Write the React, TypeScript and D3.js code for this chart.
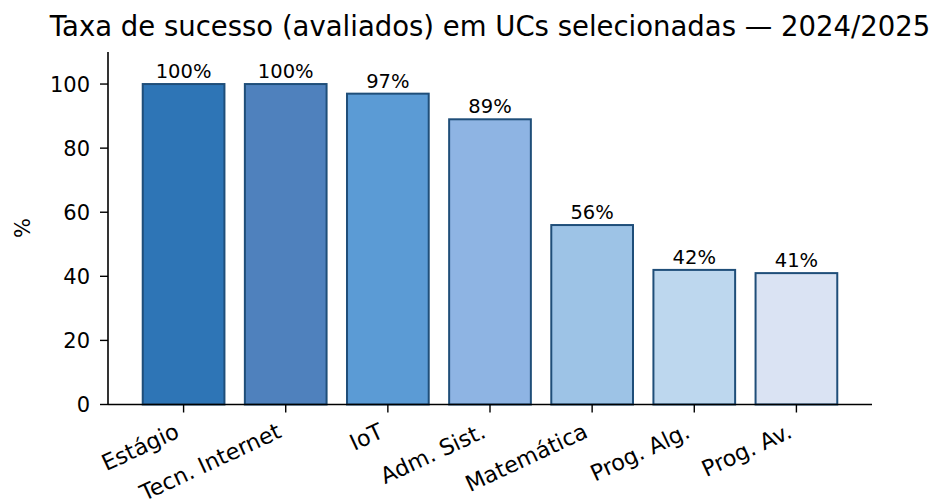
import React from "react";
import * as d3 from "d3";

const categories = ["Estágio", "Tecn. Internet", "IoT", "Adm. Sist.", "Matemática", "Prog. Alg.", "Prog. Av."];
const values = [100, 100, 97, 89, 56, 42, 41];
const colors = ["#2e75b6", "#4f81bd", "#5b9bd5", "#8eb4e3", "#9dc3e6", "#bdd7ee", "#dae3f3"];
const yTicks = [0, 20, 40, 60, 80, 100];
const title = "Taxa de sucesso (avaliados) em UCs selecionadas — 2024/2025";

export default function App() {
  const W = 941, H = 499;
  const left = 108, right = 872, top = 52, bottom = 404.5;
  const x = d3.scaleLinear().domain([-0.74, categories.length - 1 + 0.74]).range([left, right]);
  const y = d3.scaleLinear().domain([0, 110]).range([bottom, top]);
  const bw = x(0.4) - x(-0.4);
  const font = "'DejaVu Sans', sans-serif";
  return (
    <svg width={W} height={H} style={{ position: "absolute", left: 0, top: 0 }} fontFamily={font}>
      <rect width={W} height={H} fill="#fff" />
      <text x={(left + right) / 2} y={36} textAnchor="middle" fontSize={27.5} fill="#000">{title}</text>
      {values.map((v, i) => (
        <g key={i}>
          <rect x={x(i) - bw / 2} y={y(v)} width={bw} height={y(0) - y(v)} fill={colors[i]} stroke="#1f4e79" strokeWidth={2} />
          <text x={x(i)} y={y(v) - 6} textAnchor="middle" fontSize={19.5} fill="#000">{v}%</text>
        </g>
      ))}
      <line x1={left} x2={left} y1={top} y2={bottom} stroke="#000" strokeWidth={1.6} />
      <line x1={left} x2={right} y1={bottom} y2={bottom} stroke="#000" strokeWidth={1.6} />
      {yTicks.map((t) => (
        <g key={t}>
          <line x1={left - 8} x2={left} y1={y(t)} y2={y(t)} stroke="#000" strokeWidth={1.4} />
          <text x={left - 18} y={y(t)} dy="0.36em" textAnchor="end" fontSize={21} fill="#000">{t}</text>
        </g>
      ))}
      {categories.map((c, i) => (
        <g key={c}>
          <line x1={x(i)} x2={x(i)} y1={bottom} y2={bottom + 8} stroke="#000" strokeWidth={1.4} />
          <text transform={`translate(${x(i) - 10},${bottom + 17}) rotate(-25)`} textAnchor="end" dy="0.75em" fontSize={22.3} fill="#000">{c}</text>
        </g>
      ))}
      <text transform={`translate(30,${228}) rotate(-90)`} textAnchor="middle" fontSize={21} fill="#000">%</text>
    </svg>
  );
}
